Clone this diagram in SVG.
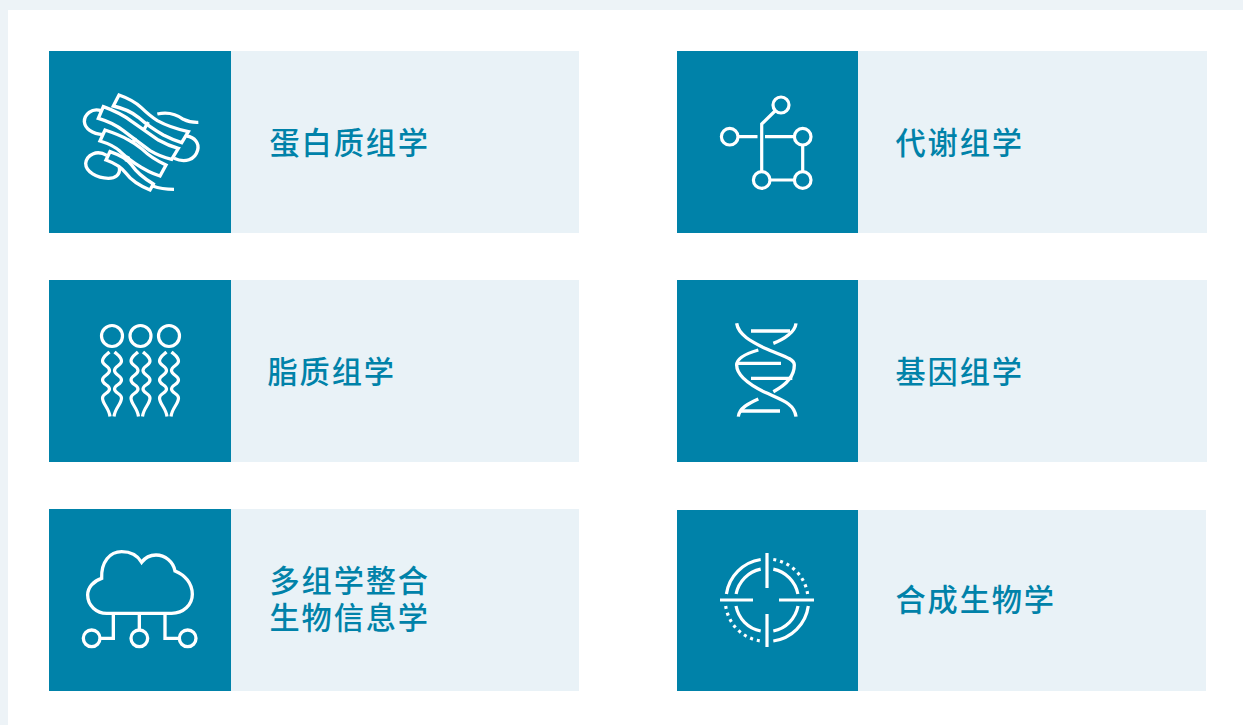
<svg xmlns="http://www.w3.org/2000/svg" width="1243" height="725" viewBox="0 0 1243 725">
<style>
.teal{fill:#0082a9}
.light{fill:#e9f2f7}
.ic{fill:none;stroke:#fff;stroke-width:3.200;stroke-linejoin:miter}
.z{fill:none;stroke:#fff;stroke-width:10}
.t{font-family:"Noto Sans CJK SC","Noto Sans",sans-serif;font-size:30.200px;font-weight:500;letter-spacing:1.900px;fill:#0082a9}
</style>
<rect width="1243" height="725" fill="#edf3f7"/>
<rect x="8" y="10" width="1235" height="715" fill="#fff"/>
<g id="node-proteomics">
<rect class="light" x="231" y="51" width="348" height="182"/><rect class="teal" x="49" y="51" width="182" height="182"/>
<g class="z" transform="translate(70 80) scale(.33333)">
<path d="M130 78L147 45Q190 60 214 83Q240 108 262 122Q300 143 355 155L335 188Q305 178 280 165Q240 143 205 112Q175 88 130 78Z"/>
<path d="M85 115L100 80Q150 98 185 124Q222 150 265 180Q295 197 325 205L305 238Q270 230 240 212Q190 175 160 152Q130 128 85 115Z"/>
<path d="M90 183L105 150Q150 165 172 178Q195 190 217 208Q245 235 288 255L270 288Q235 277 195 250Q168 232 150 214Q130 195 90 183Z"/>
<path d="M108 240L120 215Q170 232 185 255Q205 285 250 312L240 330Q190 310 168 280Q150 255 108 240Z"/>
<path d="M235 126L222 148M196 173L188 190M176 229L168 245"/>
<path d="M262 102Q305 92 340 118Q360 128 385 127"/>
<path d="M93 92C65 82 43 105 43 125C45 145 65 162 100 164"/>
<path d="M350 168C375 172 388 190 383 210C375 240 345 250 312 235"/>
<path d="M110 226C80 208 50 225 47 250C47 275 80 295 115 295C135 295 152 285 148 262"/>
<path d="M248 318Q275 328 312 328"/>
</g>
<text class="t" x="269.500" y="154">蛋白质组学</text>
</g>
<g id="node-metabolomics">
<rect class="light" x="858" y="51" width="349" height="182"/><rect class="teal" x="677" y="51" width="181" height="182"/>
<g class="ic">
<circle cx="781" cy="105" r="8"/><circle cx="729.700" cy="136.700" r="8.300"/><circle cx="802.700" cy="136.700" r="8.300"/><circle cx="761.700" cy="180" r="8.300"/><circle cx="802.700" cy="180" r="8.300"/>
<path d="M775 111L761.700 124V171.700M738 136.700H757.500M765 136.700H794.400M802.700 145V171.700M770 180H794.400"/>
</g>
<text class="t" x="895.500" y="154">代谢组学</text>
</g>
<g id="node-lipidomics">
<rect class="light" x="231" y="280" width="348" height="182"/><rect class="teal" x="49" y="280" width="182" height="182"/>
<defs><g id="lip">
<circle cx="0" cy="336" r="10.500"/>
<path d="M-2.500 352C-6 355 -9.500 357 -9.500 361C-9.500 365.500 -2.500 366 -2.500 370.500C-2.500 375 -9.500 375.500 -9.500 380C-9.500 384.500 -2.500 385 -2.500 389C-2.500 393 -9.500 393.500 -9.500 398C-9.500 404 -3 408 -2 416.500"/>
<path d="M2.500 352C6 355 9.500 357 9.500 361C9.500 365.500 2.500 366 2.500 370.500C2.500 375 9.500 375.500 9.500 380C9.500 384.500 2.500 385 2.500 389C2.500 393 9.500 393.500 9.500 398C9.500 404 3 408 2 416.500"/>
</g></defs>
<g class="ic"><use href="#lip" x="112"/><use href="#lip" x="140.500"/><use href="#lip" x="169"/></g>
<text class="t" x="267.500" y="383">脂质组学</text>
</g>
<g id="node-genomics">
<rect class="light" x="858" y="280" width="349" height="182"/><rect class="teal" x="677" y="280" width="181" height="182"/>
<g class="z" transform="translate(715 315) scale(.33333)">
<path d="M65 25C70 60 110 80 150 100C200 122 238 130 238 150C238 180 222 205 175 230"/>
<path d="M243 25C240 50 210 72 175 85M130 105C95 115 65 128 65 150C65 180 105 210 150 232C200 255 238 265 243 305"/>
<path d="M130 252C100 265 72 280 70 305"/>
<path d="M108 48H225M65 145H198M108 190H232M75 288H195"/>
</g>
<text class="t" x="895.500" y="383">基因组学</text>
</g>
<g id="node-bioinformatics">
<rect class="light" x="231" y="509" width="348" height="182"/><rect class="teal" x="49" y="509" width="182" height="182"/>
<g class="z" transform="translate(75 545) scale(.33333)">
<path d="M95 205H290C325 205 352 180 352 148C352 115 330 90 300 78C295 50 270 30 243 30C225 30 210 38 200 52C188 32 165 20 140 20C105 20 78 50 80 100C55 108 38 128 38 150C38 182 65 205 95 205Z"/>
<path d="M115 205V280H77M193 205V255M270 205V280H311"/>
<circle cx="50" cy="280" r="25"/><circle cx="193" cy="280" r="25"/><circle cx="338" cy="280" r="25"/>
</g>
<text class="t"><tspan x="269.500" y="592">多组学整合</tspan><tspan x="269.500" y="629">生物信息学</tspan></text>
</g>
<g id="node-synbio">
<rect class="light" x="858" y="510" width="348" height="181"/><rect class="teal" x="677" y="510" width="181" height="181"/>
<g class="ic">
<path d="M767 553V588M767 614V647M720 600H753M779 600H814"/>
<path d="M760.700 559.500A41 41 0 0 0 726.400 594M760.700 569.100A31.500 31.500 0 0 0 736.100 594"/>
<path d="M773.300 569.100A31.500 31.500 0 0 1 797.900 594"/>
<path d="M808.300 606A41 41 0 0 1 773.300 641M798 606A31.500 31.500 0 0 1 773.300 631"/>
<path d="M736 606A31.500 31.500 0 0 0 760.700 631"/>
<path stroke-dasharray="3 4" d="M773.300 559.500A41 41 0 0 1 807.600 594M725.700 606A41 41 0 0 0 760.700 641"/>
</g>
<text class="t" x="895.500" y="611">合成生物学</text>
</g>
</svg>
